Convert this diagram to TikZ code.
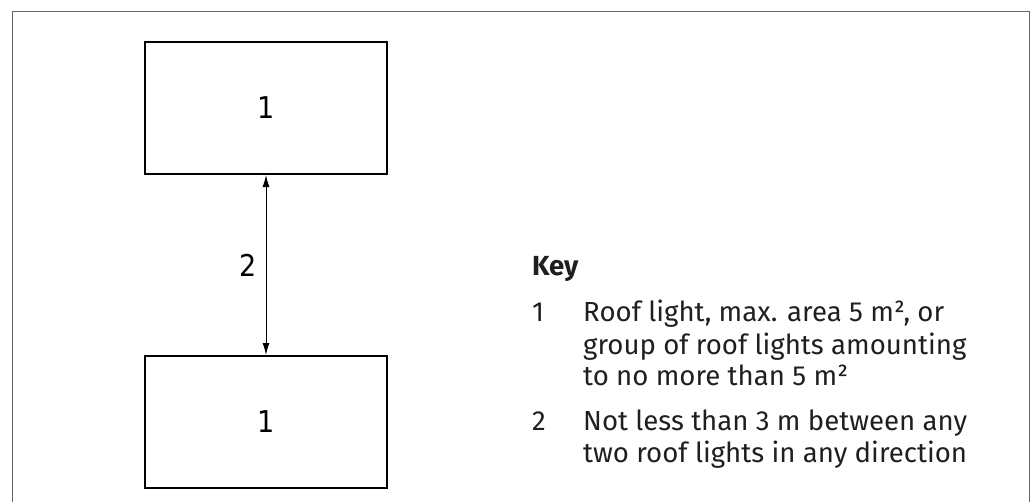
\documentclass[tikz,border=0pt]{standalone}
\usepackage{fontspec}
\setmainfont{Fira Sans}
\newfontfamily\dinfont{DejaVu Sans Condensed}
\usetikzlibrary{arrows.meta}
\begin{document}
\begin{tikzpicture}[x=1pt,y=-1pt,
  lightbox/.style={draw=black,line width=2pt,minimum width=242pt,minimum height=132pt,inner sep=0pt,font=\dinfont\fontsize{30}{30}\selectfont},
  keytext/.style={anchor=base west,inner sep=0pt,font=\fontsize{27.6}{27.6}\selectfont,text=black!88},
  dimarrow/.style={line width=1pt,{Latex[length=12pt,width=7pt]}-{Latex[length=12pt,width=7pt]}}]
\useasboundingbox (0,0) rectangle (1031,501);
\clip (0,0) rectangle (1031,501);
\draw[gray!80!black,line width=1pt] (12,11) rectangle (1029,520);
\node[lightbox] (top) at (266,108) {1};
\node[lightbox] (bot) at (266,422) {1};
\draw[dimarrow] (top.south) -- node[left=6pt,font=\dinfont\fontsize{30}{30}\selectfont] (lab2) {2} (bot.north);
\node[keytext,font=\bfseries\fontsize{27.6}{27.6}\selectfont] (key) at (532,275) {Key};
\node[keytext] (n1) at (532,321) {1};
\node[keytext] (t1a) at (583,321) {Roof light, max. area 5 m², or};
\node[keytext] (t1b) at (583,354) {group of roof lights amounting};
\node[keytext] (t1c) at (583,385) {to no more than 5 m²};
\node[keytext] (n2) at (532,430) {2};
\node[keytext] (t2a) at (583,430) {Not less than 3 m between any};
\node[keytext] (t2b) at (583,462) {two roof lights in any direction};
\end{tikzpicture}
\end{document}
